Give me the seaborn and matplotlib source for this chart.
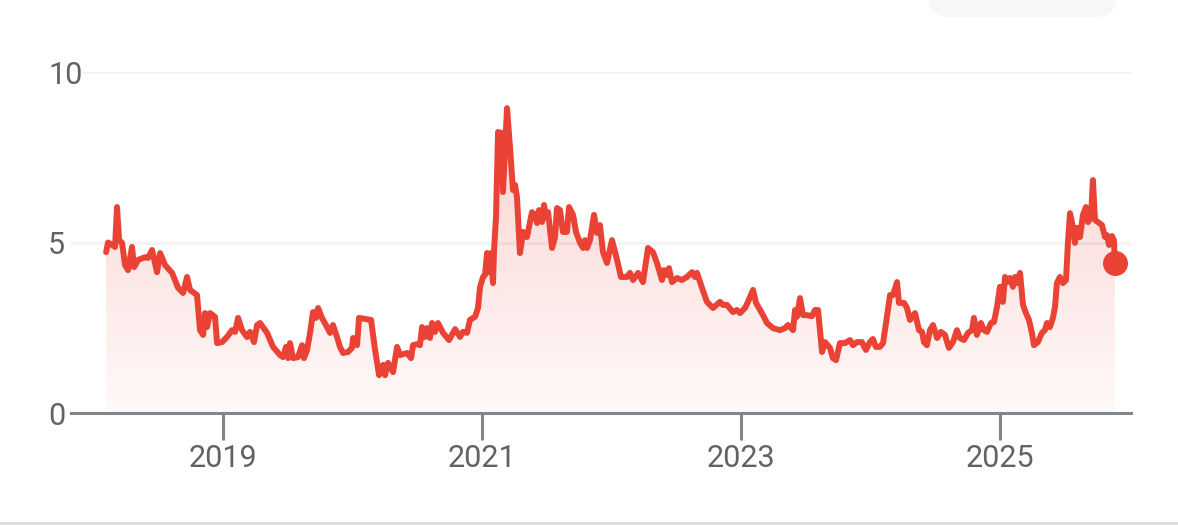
import numpy as np
import pandas as pd
import seaborn as sns
import matplotlib
matplotlib.use('Agg')
import matplotlib.pyplot as plt
from matplotlib.colors import to_rgb
from matplotlib.patches import FancyBboxPatch, Rectangle

# values (decimal year, value)
years = [
    2018.097, 2018.112, 2018.143, 2018.166, 2018.181, 2018.197, 2018.220, 2018.243, 2018.266, 2018.297,
    2018.313, 2018.344, 2018.398, 2018.421, 2018.452, 2018.490, 2018.514, 2018.552, 2018.606, 2018.653,
    2018.691, 2018.722, 2018.745, 2018.799, 2018.822, 2018.846, 2018.861, 2018.876, 2018.900, 2018.938,
    2018.954, 2018.992, 2019.031, 2019.069, 2019.093, 2019.116, 2019.147, 2019.185, 2019.208, 2019.239,
    2019.263, 2019.286, 2019.340, 2019.386, 2019.440, 2019.463, 2019.486, 2019.502, 2019.517, 2019.541,
    2019.579, 2019.610, 2019.625, 2019.649, 2019.672, 2019.695, 2019.718, 2019.734, 2019.764, 2019.803,
    2019.826, 2019.849, 2019.880, 2019.903, 2019.927, 2019.965, 2019.996, 2020.004, 2020.035, 2020.050,
    2020.097, 2020.143, 2020.174, 2020.205, 2020.236, 2020.251, 2020.274, 2020.313, 2020.344, 2020.367,
    2020.421, 2020.452, 2020.467, 2020.498, 2020.521, 2020.537, 2020.560, 2020.575, 2020.598, 2020.614,
    2020.637, 2020.660, 2020.699, 2020.745, 2020.792, 2020.830, 2020.853, 2020.884, 2020.907, 2020.946,
    2020.969, 2020.985, 2021.008, 2021.023, 2021.039, 2021.054, 2021.069, 2021.085, 2021.093, 2021.108,
    2021.124, 2021.154, 2021.162, 2021.193, 2021.216, 2021.239, 2021.255, 2021.270, 2021.293, 2021.317,
    2021.347, 2021.386, 2021.409, 2021.425, 2021.440, 2021.463, 2021.479, 2021.494, 2021.510, 2021.541,
    2021.564, 2021.579, 2021.602, 2021.625, 2021.656, 2021.672, 2021.703, 2021.726, 2021.757, 2021.780,
    2021.795, 2021.811, 2021.834, 2021.865, 2021.888, 2021.911, 2021.934, 2021.965, 2022.004, 2022.043,
    2022.073, 2022.120, 2022.143, 2022.166, 2022.205, 2022.243, 2022.282, 2022.320, 2022.351, 2022.390,
    2022.405, 2022.429, 2022.444, 2022.467, 2022.506, 2022.544, 2022.583, 2022.622, 2022.645, 2022.660,
    2022.699, 2022.737, 2022.784, 2022.838, 2022.861, 2022.892, 2022.938, 2022.969, 2022.992, 2023.031,
    2023.054, 2023.093, 2023.116, 2023.147, 2023.170, 2023.201, 2023.247, 2023.301, 2023.340, 2023.363,
    2023.402, 2023.417, 2023.432, 2023.456, 2023.479, 2023.510, 2023.548, 2023.571, 2023.595, 2023.626,
    2023.649, 2023.687, 2023.710, 2023.734, 2023.764, 2023.803, 2023.842, 2023.865, 2023.896, 2023.934,
    2023.965, 2023.996, 2024.019, 2024.042, 2024.073, 2024.097, 2024.127, 2024.151, 2024.174, 2024.205,
    2024.220, 2024.259, 2024.282, 2024.305, 2024.344, 2024.375, 2024.398, 2024.413, 2024.436, 2024.459,
    2024.483, 2024.514, 2024.544, 2024.575, 2024.606, 2024.637, 2024.668, 2024.691, 2024.722, 2024.753,
    2024.784, 2024.799, 2024.822, 2024.853, 2024.876, 2024.900, 2024.931, 2024.954, 2024.977, 2025.000,
    2025.023, 2025.039, 2025.054, 2025.077, 2025.100, 2025.116, 2025.131, 2025.155, 2025.178, 2025.201,
    2025.224, 2025.247, 2025.263, 2025.293, 2025.324, 2025.347, 2025.363, 2025.386, 2025.409, 2025.425,
    2025.440, 2025.463, 2025.486, 2025.510, 2025.525, 2025.541, 2025.564, 2025.579, 2025.595, 2025.618,
    2025.641, 2025.664, 2025.680, 2025.703, 2025.718, 2025.734, 2025.757, 2025.788, 2025.811, 2025.826,
    2025.842, 2025.865, 2025.880, 2025.888,
]
values = [
    4.72, 5.00, 4.93, 4.87, 6.04, 5.07, 4.99, 4.34, 4.19, 4.87,
    4.28, 4.49, 4.57, 4.55, 4.78, 4.13, 4.69, 4.34, 4.11, 3.67,
    3.52, 3.99, 3.61, 3.46, 2.43, 2.29, 2.93, 2.52, 2.93, 2.82,
    2.05, 2.08, 2.23, 2.43, 2.38, 2.79, 2.43, 2.23, 2.38, 2.08,
    2.58, 2.64, 2.35, 1.94, 1.70, 1.64, 1.94, 1.61, 2.05, 1.61,
    1.64, 1.99, 1.61, 1.85, 2.35, 2.96, 2.79, 3.08, 2.79, 2.52,
    2.35, 2.58, 2.23, 1.94, 1.76, 1.79, 1.91, 2.20, 1.99, 2.79,
    2.76, 2.73, 1.85, 1.11, 1.41, 1.11, 1.47, 1.20, 1.94, 1.70,
    1.76, 1.61, 1.99, 2.02, 1.99, 2.52, 2.23, 2.49, 2.20, 2.64,
    2.38, 2.64, 2.35, 2.14, 2.46, 2.23, 2.38, 2.35, 2.73, 2.82,
    3.08, 3.70, 3.99, 4.05, 4.69, 4.13, 4.69, 3.81, 4.78, 5.75,
    8.24, 8.21, 6.48, 8.94, 7.80, 6.54, 6.69, 6.33, 4.69, 5.31,
    5.16, 5.89, 5.81, 5.57, 5.95, 5.60, 6.10, 5.72, 5.89, 4.84,
    5.16, 6.01, 5.95, 5.31, 5.31, 6.04, 5.81, 5.31, 4.99, 4.84,
    5.07, 4.84, 5.07, 5.81, 5.28, 5.51, 4.72, 4.40, 5.07, 4.49,
    3.99, 3.99, 4.11, 3.90, 4.11, 3.84, 4.84, 4.72, 4.40, 3.90,
    4.19, 4.05, 4.25, 3.84, 3.96, 3.90, 3.99, 4.13, 3.99, 4.11,
    3.67, 3.26, 3.08, 3.26, 3.17, 3.17, 2.96, 3.02, 2.93, 3.08,
    3.26, 3.61, 3.23, 3.02, 2.87, 2.64, 2.49, 2.43, 2.49, 2.58,
    2.43, 3.02, 2.82, 3.37, 2.87, 2.87, 2.84, 3.02, 3.02, 1.79,
    2.08, 1.91, 1.61, 1.55, 2.05, 2.05, 2.14, 1.99, 2.08, 2.08,
    1.85, 2.08, 2.17, 1.94, 1.94, 2.05, 2.82, 3.46, 3.46, 3.84,
    3.23, 3.23, 3.08, 2.73, 2.93, 2.43, 2.38, 2.08, 1.99, 2.43,
    2.58, 2.20, 2.38, 2.29, 1.91, 2.08, 2.43, 2.20, 2.14, 2.35,
    2.43, 2.79, 2.29, 2.64, 2.43, 2.38, 2.64, 2.67, 3.11, 3.70,
    3.26, 3.99, 3.84, 3.96, 3.70, 3.99, 3.81, 4.11, 3.17, 2.93,
    2.73, 2.35, 1.99, 2.08, 2.35, 2.43, 2.64, 2.52, 2.79, 3.11,
    3.81, 3.99, 3.81, 3.90, 4.99, 5.86, 5.45, 4.99, 5.43, 5.16,
    5.81, 6.04, 5.60, 5.75, 6.83, 5.66, 5.60, 5.51, 5.16, 5.22,
    4.93, 5.19, 5.07, 4.40,
]
year_ticks = [2019, 2021, 2023, 2025]
value_ticks = [0, 5, 10]

RED = '#EA4335'
AXIS = '#80868b'
TEXT = '#5f6368'

sns.set_style('white')
plt.rcParams['font.family'] = ['Roboto', 'DejaVu Sans']

df = pd.DataFrame({'year': years, 'value': values})

fig = plt.figure(figsize=(11.78, 5.25), dpi=100)
ax = fig.add_axes([0.0603, 0.2133, 0.8998, 0.6495])

# gradient fill under the line, clipped to the area polygon
area = ax.fill_between(df['year'], df['value'], 0, color='none', lw=0)
rgba = np.zeros((256, 1, 4))
rgba[..., :3] = to_rgb(RED)
rgba[..., 3] = np.linspace(0.03, 0.24, 256)[:, None]
im = ax.imshow(rgba, extent=[df['year'].min(), df['year'].max(), 0, df['value'].max()],
               origin='lower', aspect='auto', zorder=1)
im.set_clip_path(area.get_paths()[0], transform=ax.transData)

sns.lineplot(data=df, x='year', y='value', ax=ax, color=RED, lw=4.3, zorder=3)
ax.plot(df['year'].iloc[-1], df['value'].iloc[-1], 'o', color=RED, ms=17, zorder=4, clip_on=False)

# gridlines
ax.axhline(10, xmin=0.011, color='#f1f3f4', lw=2.2, zorder=0)
ax.axhline(5, color='#f1f3f4', lw=2.2, zorder=0)

ax.set_xlim(2017.826, 2026.012)
ax.set_ylim(0, 10)
ax.set_xticks(year_ticks)
ax.set_xticklabels([str(y) for y in year_ticks])
ax.set_yticks(value_ticks)
ax.set_yticklabels([str(v) for v in value_ticks])
for lbl in ax.get_yticklabels():
    lbl.set_horizontalalignment('left')

ax.tick_params(axis='x', bottom=True, direction='out', length=19.5, width=2.2, color=AXIS,
               labelsize=22, labelcolor=TEXT, pad=3)
ax.tick_params(axis='y', left=False, length=0, labelsize=22, labelcolor=TEXT, pad=16.6)
ax.set_xlabel('')
ax.set_ylabel('')

for s in ['top', 'right', 'left']:
    ax.spines[s].set_visible(False)
ax.spines['bottom'].set_color(AXIS)
ax.spines['bottom'].set_linewidth(2.2)
ax.spines['bottom'].set_zorder(5)

# decorations of the screenshot: partial button at top right, grey band at bottom
fig.add_artist(FancyBboxPatch((9.28, 5.08), 1.89, 0.6, boxstyle='round,pad=0,rounding_size=0.22',
                              transform=fig.dpi_scale_trans, fc='#f6f7f9', ec='none'))
fig.add_artist(Rectangle((0, 0), 11.78, 0.035, transform=fig.dpi_scale_trans, fc='#dadce0', ec='none'))

fig.savefig('out.png', dpi=100)
